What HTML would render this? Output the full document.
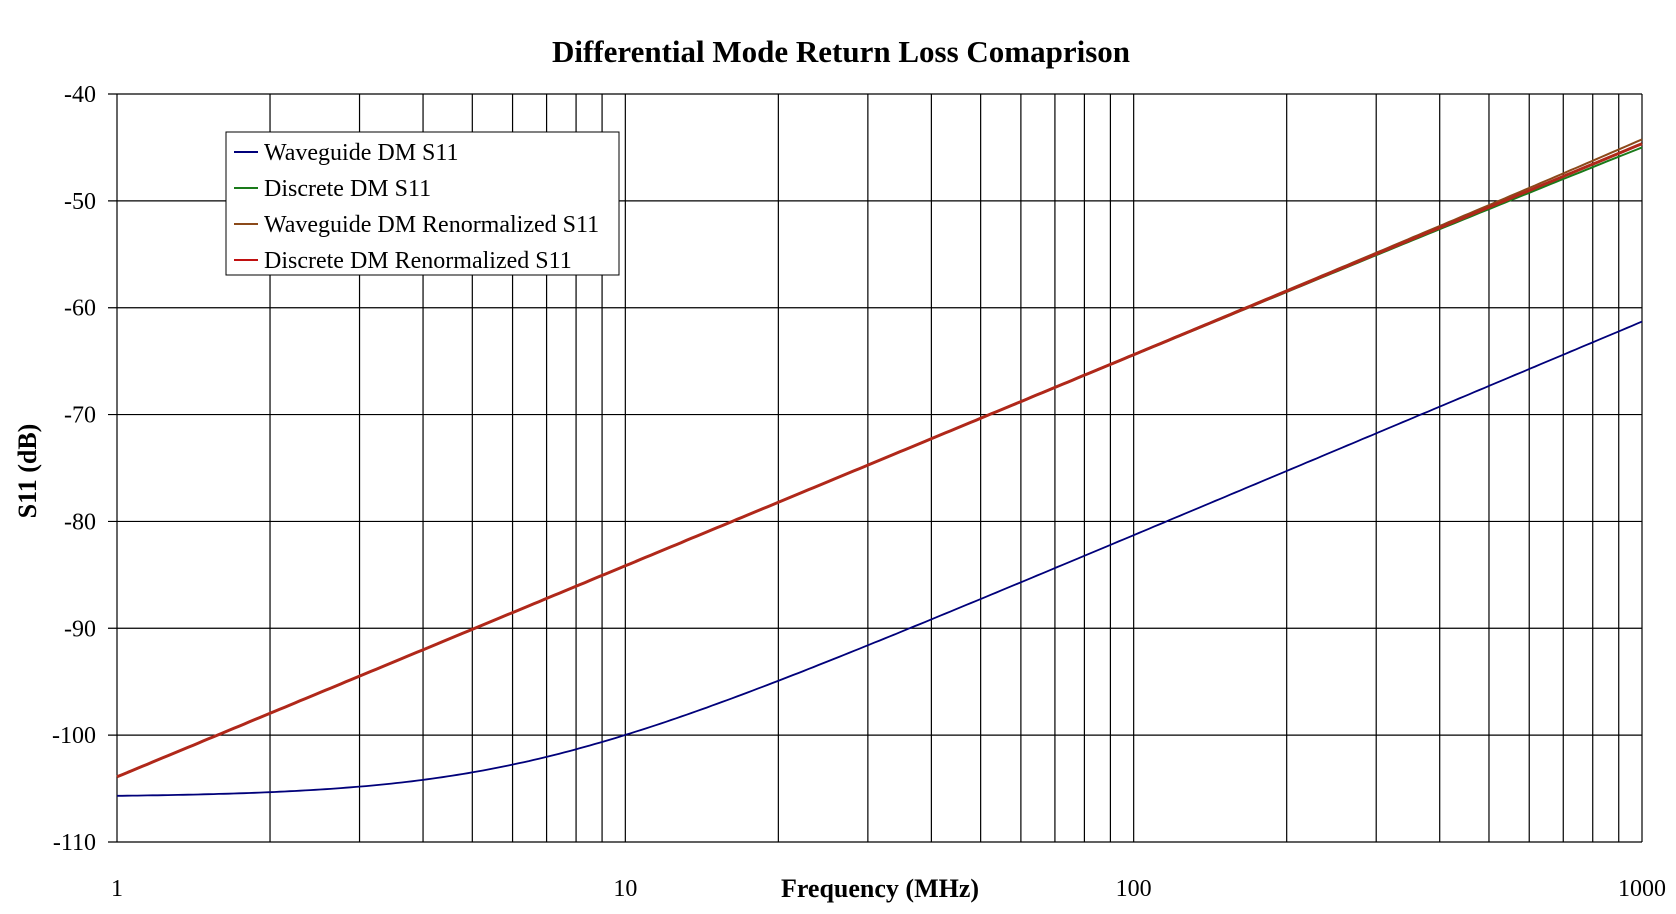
<!DOCTYPE html>
<html><head><meta charset="utf-8"><style>
html,body{margin:0;padding:0;background:#fff;}
svg{display:block;font-family:"Liberation Serif",serif;}
</style></head><body>
<svg id="s" width="1676" height="914" xmlns="http://www.w3.org/2000/svg">
<text x="841" y="62" text-anchor="middle" font-size="31" font-weight="bold">Differential Mode Return Loss Comaprison</text>
<g id="grid"></g>
<g id="curves" fill="none"></g>
<rect x="226" y="132" width="393" height="143" fill="#fff" stroke="#000" stroke-width="1"/>
<line x1="234" y1="152" x2="258" y2="152" stroke="#00007a" stroke-width="2"/>
<line x1="234" y1="188" x2="258" y2="188" stroke="#1a7a1a" stroke-width="2"/>
<line x1="234" y1="224" x2="258" y2="224" stroke="#8b4a1a" stroke-width="2"/>
<line x1="234" y1="260" x2="258" y2="260" stroke="#c01010" stroke-width="2"/>
<g font-size="24">
<text x="264" y="160">Waveguide DM S11</text>
<text x="264" y="196">Discrete DM S11</text>
<text x="264" y="232">Waveguide DM Renormalized S11</text>
<text x="264" y="268">Discrete DM Renormalized S11</text>
</g>
<text x="880" y="897" text-anchor="middle" font-size="26" font-weight="bold">Frequency (MHz)</text>
<text transform="translate(36,471) rotate(-90)" text-anchor="middle" font-size="26" font-weight="bold">S11 (dB)</text>
</svg>
<script>
var L=117,R=1642,T=94,B=842,dec=(R-L)/3;
function X(f){return L+Math.log10(f)*dec;}function Y(d){return T+(-40-d)/70*(B-T);}
var g=document.getElementById('grid'),h='';
for(var d=0;d<3;d++)for(var k=1;k<10;k++){var x=X(k*Math.pow(10,d));h+='<line x1="'+x+'" y1="'+T+'" x2="'+x+'" y2="'+B+'" stroke="#000" stroke-width="1.2"/>';}
h+='<line x1="'+R+'" y1="'+T+'" x2="'+R+'" y2="'+B+'" stroke="#000" stroke-width="1.2"/>';
for(var v=-40;v>=-110;v-=10){var y=Y(v);h+='<line x1="108" y1="'+y+'" x2="'+R+'" y2="'+y+'" stroke="#000" stroke-width="1.2"/>';
h+='<text x="96" y="'+(y+8)+'" text-anchor="end" font-size="24">'+v+'</text>';}
var labs=[1,10,100,1000];for(var i=0;i<4;i++){h+='<text x="'+X(labs[i])+'" y="896" text-anchor="middle" font-size="24">'+labs[i]+'</text>';}
g.innerHTML=h;
function path(fn){var p='';for(var i=0;i<=300;i++){var f=Math.pow(10,i/100);p+=(i?'L':'M')+X(f).toFixed(1)+' '+Y(fn(f)).toFixed(1);}return p;}
function base(f){return -103.9+19.75*Math.log10(f);}
var c='';
c+='<path d="'+path(function(f){return base(f)-0.35*f/1000;})+'" stroke="#1a7a1a" stroke-width="2"/>';
c+='<path d="'+path(function(f){return base(f)+0.4*f/1000;})+'" stroke="#8b4a1a" stroke-width="2"/>';
c+='<path d="'+path(function(f){return base(f);})+'" stroke="#b0281a" stroke-width="3"/>';
c+='<path d="'+path(function(f){return 10*Math.log10(Math.pow(10,-10.58)+Math.pow(10,(-121.3+20*Math.log10(f))/10));})+'" stroke="#00007a" stroke-width="1.8"/>';
document.getElementById('curves').innerHTML=c;
</script>
</body></html>
